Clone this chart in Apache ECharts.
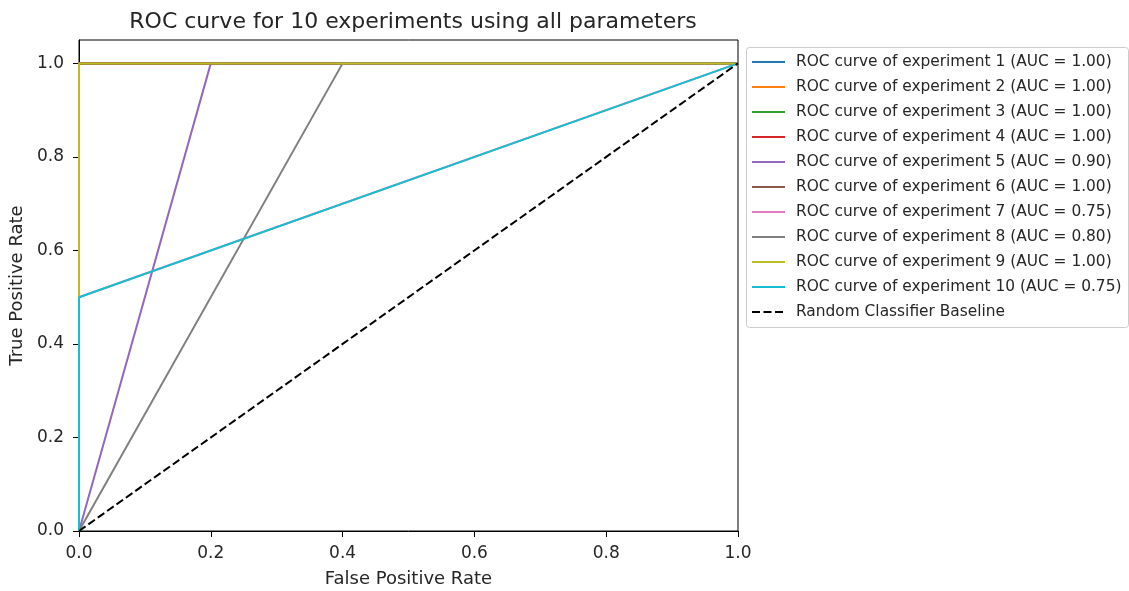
<!DOCTYPE html>
<html>
<head>
<meta charset="utf-8">
<script src="https://cdn.jsdelivr.net/npm/echarts@6/dist/echarts.min.js"></script>
<style>html,body{margin:0;padding:0;background:#fff}#c{width:1129px;height:591px}</style>
</head>
<body>
<div id="c"></div>
<script>
const titleText = 'ROC curve for 10 experiments using all parameters';
const seriesNames = [
  'ROC curve of experiment 1 (AUC = 1.00)',
  'ROC curve of experiment 2 (AUC = 1.00)',
  'ROC curve of experiment 3 (AUC = 1.00)',
  'ROC curve of experiment 4 (AUC = 1.00)',
  'ROC curve of experiment 5 (AUC = 0.90)',
  'ROC curve of experiment 6 (AUC = 1.00)',
  'ROC curve of experiment 7 (AUC = 0.75)',
  'ROC curve of experiment 8 (AUC = 0.80)',
  'ROC curve of experiment 9 (AUC = 1.00)',
  'ROC curve of experiment 10 (AUC = 0.75)'
];
const fprs = [
  [0, 0, 1],
  [0, 0, 1],
  [0, 0, 1],
  [0, 0, 1],
  [0, 0.2, 1],
  [0, 0, 1],
  [0, 0, 1],
  [0, 0.4, 1],
  [0, 0, 1],
  [0, 0, 1]
];
const tprs = [
  [0, 1, 1],
  [0, 1, 1],
  [0, 1, 1],
  [0, 1, 1],
  [0, 1, 1],
  [0, 1, 1],
  [0, 0.5, 1],
  [0, 1, 1],
  [0, 1, 1],
  [0, 0.5, 1]
];
const baselineName = 'Random Classifier Baseline';
const baselineX = [0, 1];
const baselineY = [0, 1];
const xTicks = [0, 0.2, 0.4, 0.6, 0.8, 1.0];
const yTicks = [0, 0.2, 0.4, 0.6, 0.8, 1.0];
const colors = ['#1f77b4','#ff7f0e','#2ca02c','#d62728','#9467bd','#8c564b','#e377c2','#7f7f7f','#bcbd22','#17becf'];

const txt = '#262626';
const font = 'DejaVu Sans';
const series = seriesNames.map((n, i) => ({
  name: n,
  type: 'line',
  data: fprs[i].map((x, j) => [x, tprs[i][j]]),
  showSymbol: false,
  symbol: 'none',
  animation: false,
  lineStyle: { color: colors[i], width: 2 },
  itemStyle: { color: colors[i] }
}));
series.push({
  name: baselineName,
  type: 'line',
  data: baselineX.map((x, j) => [x, baselineY[j]]),
  showSymbol: false,
  symbol: 'none',
  animation: false,
  lineStyle: { color: '#000', width: 2, type: [8, 3.5] },
  itemStyle: { color: '#000' }
});

const chart = echarts.init(document.getElementById('c'));
chart.setOption({
  animation: false,
  backgroundColor: '#fff',
  textStyle: { fontFamily: font, color: txt },
  title: {
    text: titleText,
    left: 408, textAlign: 'center', top: 6,
    textStyle: { fontFamily: font, fontSize: 22, fontWeight: 'normal', color: txt }
  },
  grid: {
    left: 79, right: 391, top: 40, bottom: 60,
    outerBoundsMode: 'none', containLabel: false,
    show: true, borderColor: '#000', borderWidth: 1, backgroundColor: 'transparent'
  },
  graphic: [{
    type: 'rect', left: 746, top: 47, z: 1,
    shape: { width: 382, height: 280, r: 3 },
    style: { fill: '#fff', stroke: '#cccccc', lineWidth: 1 }
  }],
  legend: {
    orient: 'vertical',
    left: 746, top: 47,
    padding: [5, 8, 2, 5],
    itemWidth: 33, itemHeight: 20, itemGap: 5,
    borderWidth: 0,
    z: 5,
    itemStyle: { opacity: 0 },
    textStyle: { fontFamily: font, fontSize: 15.4, lineHeight: 20, color: txt, padding: [0, 0, 0, 6] },
    data: seriesNames.concat([baselineName])
  },
  xAxis: {
    type: 'value', min: 0, max: 1, interval: 0.2,
    name: 'False Positive Rate', nameLocation: 'middle', nameGap: 39,
    nameTextStyle: { fontFamily: font, fontSize: 18, color: txt },
    axisLine: { show: true, lineStyle: { color: '#000', width: 1 } },
    axisTick: { show: true, length: 6, lineStyle: { color: '#000' }, customValues: xTicks },
    axisLabel: { fontFamily: font, fontSize: 17, color: txt, margin: 14, customValues: xTicks,
      formatter: v => v.toFixed(1) },
    splitLine: { show: false }
  },
  yAxis: {
    type: 'value', min: 0, max: 1.05, interval: 0.2,
    name: 'True Positive Rate', nameLocation: 'middle', nameGap: 48,
    nameTextStyle: { fontFamily: font, fontSize: 18, color: txt },
    axisLine: { show: true, lineStyle: { color: '#000', width: 1 } },
    axisTick: { show: true, length: 6, lineStyle: { color: '#000' }, customValues: yTicks },
    axisLabel: { fontFamily: font, fontSize: 17, color: txt, margin: 15, customValues: yTicks,
      formatter: v => v.toFixed(1) },
    splitLine: { show: false }
  },
  series: series
});
</script>
</body>
</html>
